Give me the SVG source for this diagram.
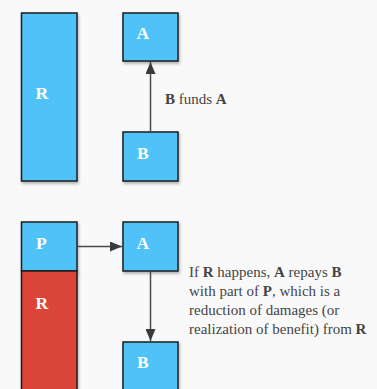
<svg xmlns="http://www.w3.org/2000/svg" width="377" height="389" viewBox="0 0 377 389">
<defs>
<style>
.box{stroke:#1e1e1e;stroke-width:1.5;filter:url(#sh)}
.blue{fill:#4fc3f7}
.red{fill:#db4437}
.lbl{font-family:'Liberation Serif','Times New Roman',serif;font-weight:bold;font-size:17.5px;fill:#ffffff}
.edge{stroke:#4a4a4a;stroke-width:1.5;fill:none}
.txt{font-family:'Liberation Serif','Times New Roman',serif;font-size:15px;fill:#444444}
.b{font-weight:bold}
</style>
<filter id="sh" x="-20%" y="-20%" width="150%" height="150%">
<feDropShadow dx="1" dy="2" stdDeviation="1.5" flood-color="#000" flood-opacity="0.3"/>
</filter>
<marker id="ah" viewBox="0 0 12 10" refX="12" refY="5" markerWidth="12" markerHeight="10" markerUnits="userSpaceOnUse" orient="auto">
<path d="M0,0 L12,5 L0,10 z" fill="#3a3a3a"/>
</marker>
</defs>
<rect width="377" height="389" fill="#f9f9f9"/>
<g id="R1"><rect class="box blue" x="21.5" y="13" width="55.5" height="168"/><text class="lbl" x="35.5" y="99">R</text></g>
<g id="A1"><rect class="box blue" x="123" y="13" width="55" height="48"/><text class="lbl" x="136.5" y="38.5">A</text></g>
<g id="B1"><rect class="box blue" x="123" y="132" width="55" height="49"/><text class="lbl" x="137" y="158.5">B</text></g>
<g id="P2"><rect class="box blue" x="21.5" y="222" width="55.5" height="49"/><text class="lbl" x="36" y="249">P</text></g>
<g id="R2"><rect class="box red" x="21.5" y="271" width="55.5" height="130"/><text class="lbl" x="35.5" y="308.5">R</text></g>
<g id="A2"><rect class="box blue" x="123" y="222" width="55" height="49"/><text class="lbl" x="136.5" y="249">A</text></g>
<g id="B2"><rect class="box blue" x="123" y="342" width="55" height="60"/><text class="lbl" x="137" y="367.5">B</text></g>
<g id="connectors">
<line class="edge" x1="150.5" y1="132" x2="150.5" y2="62" marker-end="url(#ah)"/>
<line class="edge" x1="77" y1="246.5" x2="122" y2="246.5" marker-end="url(#ah)"/>
<line class="edge" x1="150.5" y1="271" x2="150.5" y2="341" marker-end="url(#ah)"/>
</g>
<text class="txt" x="165" y="104"><tspan class="b">B</tspan> funds <tspan class="b">A</tspan></text>
<text class="txt" x="189" y="277">If <tspan class="b">R</tspan> happens, <tspan class="b">A</tspan> repays <tspan class="b">B</tspan></text>
<text class="txt" x="189" y="296">with part of <tspan class="b">P</tspan>, which is a</text>
<text class="txt" x="189" y="315">reduction of damages (or</text>
<text class="txt" x="189" y="334">realization of benefit) from <tspan class="b">R</tspan></text>
</svg>
